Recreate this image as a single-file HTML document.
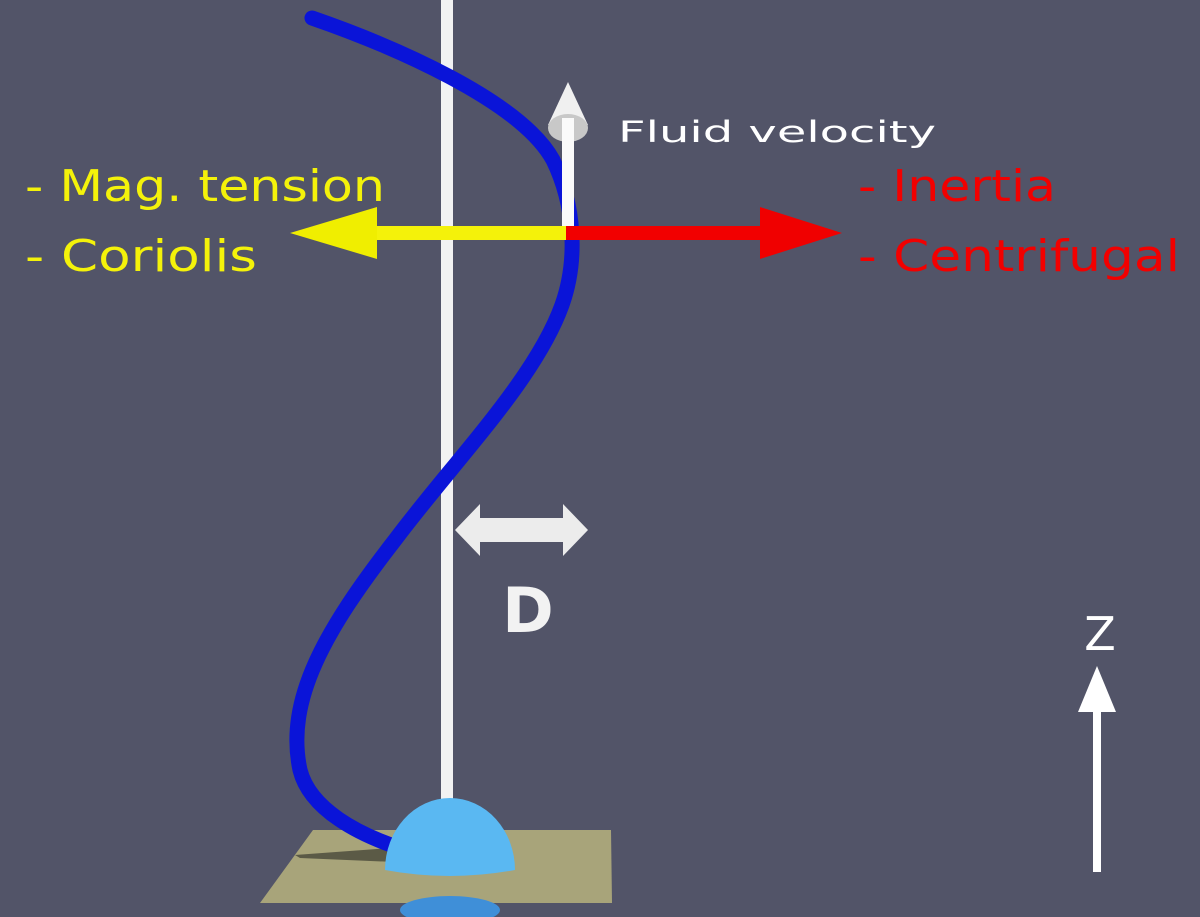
<!DOCTYPE html>
<html><head><style>
html,body{margin:0;padding:0;background:#525468;}
svg{display:block;}
text{font-family:"DejaVu Sans","Liberation Sans",sans-serif;}
</style></head><body>
<svg width="1200" height="917" viewBox="0 0 1200 917">
<rect width="1200" height="917" fill="#525468"/>
<polygon points="313,830 611,830 612,903 260,903" fill="#a8a47a"/>
<ellipse cx="450" cy="910" rx="50" ry="14" fill="#3f8fd8"/>
<polygon points="295,855 390,848 395,862 300,858" fill="#3a3a30" opacity="0.7"/>
<rect x="441" y="0" width="12" height="805" fill="#f2f2f2"/>
<path d="M312,18 C390,45 520,100 553,160 C575,205 578,260 562,305 C535,380 455,460 395,540 C325,630 285,700 300,770 C310,810 360,835 400,848" fill="none" stroke="#0a14d8" stroke-width="15" stroke-linecap="round"/>
<path d="M385,870 A65,72 0 0 1 515,870 Q450,882 385,870Z" fill="#5ab8f2"/>
<polygon points="568,82 548,125 588,125" fill="#f0f0f0"/>
<ellipse cx="568" cy="128" rx="20" ry="14" fill="#c8c8c8"/>
<rect x="562" y="118" width="12" height="114" fill="#fafafa"/>
<rect x="370" y="226" width="196" height="14" fill="#f4f20a"/>
<polygon points="290,233 377,207 377,259" fill="#f0ee00"/>
<rect x="566" y="226" width="196" height="14" fill="#f20000"/>
<polygon points="842,233 760,207 760,259" fill="#f00000"/>
<polygon points="455,530 480,504 480,518 563,518 563,504 588,530 563,556 563,542 480,542 480,556" fill="#ececec"/>
<text x="528" y="632" font-size="62" font-weight="bold" fill="#f2f2f2" text-anchor="middle" font-family="Liberation Sans">D</text>
<rect x="1093" y="705" width="8" height="167" fill="#fff"/>
<polygon points="1097,666 1078,712 1116,712" fill="#fff"/>
<text x="1100" y="650" font-size="46" fill="#fff" text-anchor="middle">Z</text>
<text x="25" y="201" font-size="44" fill="#f4f20a" textLength="360" lengthAdjust="spacingAndGlyphs">- Mag. tension</text>
<text x="25" y="271" font-size="44" fill="#f4f20a" textLength="232" lengthAdjust="spacingAndGlyphs">- Coriolis</text>
<text x="858" y="201" font-size="44" fill="#f20000" textLength="198" lengthAdjust="spacingAndGlyphs">- Inertia</text>
<text x="858" y="271" font-size="44" fill="#f20000" textLength="322" lengthAdjust="spacingAndGlyphs">- Centrifugal</text>
<text x="618" y="142" font-size="29" fill="#fff" textLength="318" lengthAdjust="spacingAndGlyphs">Fluid velocity</text>
</svg>
</body></html>
